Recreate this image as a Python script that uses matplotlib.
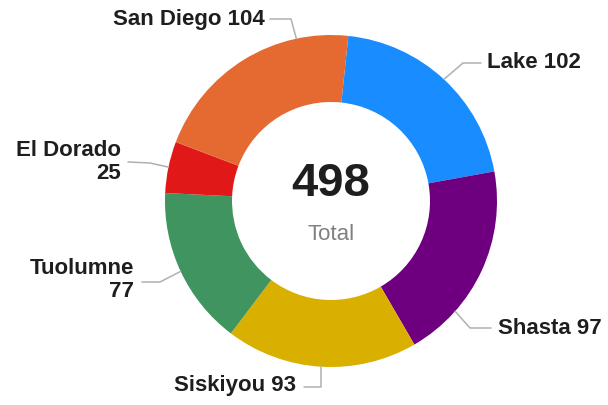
import numpy as np
import matplotlib
matplotlib.use("Agg")
import matplotlib.pyplot as plt

# ---- data ----
categories = ["Lake", "Shasta", "Siskiyou", "Tuolumne", "El Dorado", "San Diego"]
values = [102, 97, 93, 77, 25, 104]
colors = ["#198CFF", "#6E0080", "#DAB000", "#409460", "#E01818", "#E46A32"]
label_texts = ["Lake 102", "Shasta 97", "Siskiyou 93", "Tuolumne\n77", "El Dorado\n25", "San Diego 104"]
center_value = "498"
center_caption = "Total"

# ---- layout (pixel coords, y measured from top) ----
W, H = 608, 405
cx, cy = 331, 201
R_out, R_in = 166, 99
anchor_frac = [0.5, 0.74, 0.5, 0.5, 0.5, 0.76]
text_pos = [(487, 63), (498, 328), (296, 386), (134, 280), (121, 162), (265, 19)]
text_ha = ["left", "left", "right", "right", "right", "right"]
line_end = [(481, 63), (491, 328), (304, 387), (142, 282), (128, 162), (270, 19)]
line_elbow = [(463, 63), (470, 328), (321, 387), (160, 282), (150, 163), (291, 19)]

fig = plt.figure(figsize=(W / 100, H / 100), dpi=100)
ax = fig.add_axes([0, 0, 1, 1])

def Y(y):
    return H - y

wedges, _ = ax.pie(values, colors=colors, startangle=84, counterclock=False,
                   radius=R_out, center=(cx, Y(cy)),
                   wedgeprops=dict(width=R_out - R_in, linewidth=0))
ax.set_xlim(0, W)
ax.set_ylim(0, H)
ax.set_aspect("equal")
ax.axis("off")

font = "Liberation Sans"
for w, f, txt, (tx, ty), ha, (ex, ey), (bx, by) in zip(
        wedges, anchor_frac, label_texts, text_pos, text_ha, line_end, line_elbow):
    ang = np.deg2rad(w.theta2 - f * (w.theta2 - w.theta1))
    axp = cx + R_out * np.cos(ang)
    ayp = Y(cy) + R_out * np.sin(ang)
    ax.plot([ex, bx, axp], [Y(ey), Y(by), ayp], color="#b0b0b0", lw=1.1,
            solid_capstyle="round", zorder=1)
    ax.text(tx, Y(ty), txt, ha=ha, va="center", multialignment=ha,
            fontsize=16, fontweight="bold", color="#1e1e1e", family=font,
            linespacing=1.15)

ax.text(cx, Y(184), center_value, ha="center", va="center", fontsize=34,
        fontweight="bold", color="#1e1e1e", family=font)
ax.text(cx, Y(234), center_caption, ha="center", va="center", fontsize=16,
        color="#808080", family=font)

fig.savefig("out.png", dpi=100)
